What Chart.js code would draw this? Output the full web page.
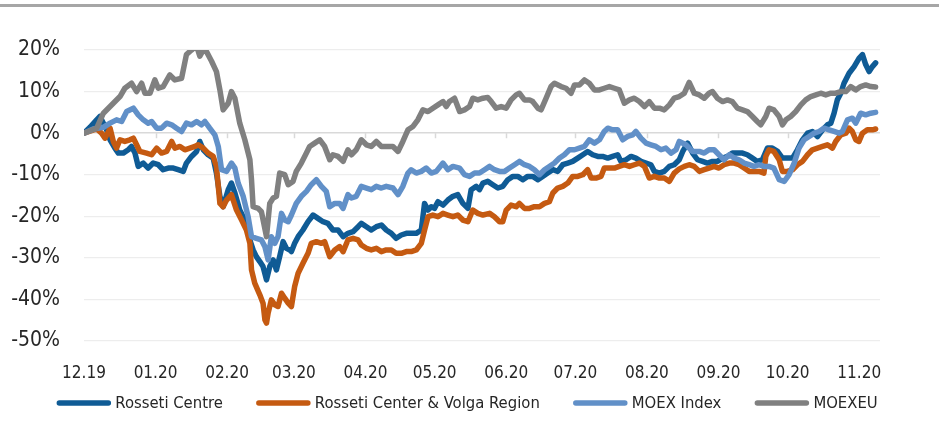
<!DOCTYPE html>
<html>
<head>
<meta charset="utf-8">
<script src="https://cdn.jsdelivr.net/npm/chart.js@4.4.0/dist/chart.umd.min.js"></script>
<style>
  html, body { margin: 0; padding: 0; background: #ffffff; }
  #wrap { position: relative; width: 939px; height: 425px; }
  #topline { position: absolute; left: 0; top: 4px; width: 939px; height: 3px; background: #a6a6a6; }
  canvas { position: absolute; left: 0; top: 0; }
</style>
</head>
<body>
<div id="wrap">
  <canvas id="c" width="939" height="425"></canvas>
  <div id="topline"></div>
</div>
<script>
// Day offsets from 1 Dec 2019 for month starts, and their labels
const monthTicks = [0, 31, 62, 91, 122, 152, 183, 213, 244, 275, 305, 336];
const monthLabels = ['12.19', '01.20', '02.20', '03.20', '04.20', '05.20', '06.20', '07.20', '08.20', '09.20', '10.20', '11.20'];
const seriesNames = ['Rosseti Centre', 'Rosseti Center & Volga Region', 'MOEX Index', 'MOEXEU'];

// Rosseti Centre (% change), days since 1 Dec 2019
const centreDays = [0,2.6,5.5,6.9,8.4,9.8,11.3,13.4,14.9,17.0,19.2,20.6,22.1,23.5,25.7,27.8,30.0,32.2,34.3,36.5,38.7,40.8,43.0,44.4,46.6,48.8,50.2,51.7,53.8,56.0,57.4,58.9,60.3,62.5,63.9,65.4,67.5,69.7,71.9,73.3,74.7,76.2,77.6,79.1,80.5,82.0,83.4,84.8,86.3,87.7,89.2,
  89.9,91.3,92.8,94.9,97.1,99.3,101.4,103.6,105.7,107.9,110.1,112.3,114.4,116.6,118.8,120.2,122.4,124.5,126.7,128.9,131.0,133.2,135.3,137.5,139.7,141.8,144.0,146.2,147.6,149.1,150.5,151.9,153.4,155.6,157.7,159.9,162.0,164.2,166.4,167.8,170.0,171.4,172.9,
  175.0,177.2,179.4,181.5,183.7,185.9,188.0,190.2,192.3,194.5,196.7,198.8,201.0,203.2,205.3,207.5,209.7,211.8,214.0,216.2,218.3,220.5,222.7,224.8,227.0,229.1,231.3,232.7,234.9,237.1,239.2,241.4,243.6,245.7,247.2,249.4,251.5,253.7,255.8,258.0,
  259.5,261.6,263.8,265.9,268.1,270.2,272.4,274.5,276.8,278.9,281.0,283.2,285.4,287.5,289.7,291.8,294.0,296.2,298.3,300.6,302.7,304.9,307.1,309.2,311.4,313.6,315.7,317.9,320.1,322.2,323.7,325.1,326.5,328.0,329.4,331.6,333.8,335.9,337.4,338.8,340.3,341.7,343.1];
const centreVals = [0,1.4,3.2,4,2.4,0.8,-1.6,-3.6,-4.8,-4.8,-4,-3.2,-4.8,-8,-7.2,-8.4,-7.2,-7.6,-8.8,-8.4,-8.4,-8.8,-9.2,-7.2,-5.6,-4.4,-2,-4,-5.2,-6,-9.6,-15.2,-17.7,-13.6,-12,-14.4,-18.5,-20.9,-25.7,-28.1,-29.7,-30.9,-32.1,-35.3,-32.1,-30.5,-32.9,-29.7,-26.1,-27.7,-28.1,
  -28.5,-26.5,-24.9,-23.3,-21.3,-19.7,-20.5,-21.3,-21.7,-23.3,-23.3,-24.9,-24.1,-23.7,-22.5,-21.7,-22.5,-23.3,-22.5,-22.1,-23.3,-24.1,-25.3,-24.5,-24.1,-24.1,-24.1,-23.3,-16.9,-18.5,-17.7,-18.1,-16.5,-17.3,-16.1,-15.2,-14.8,-16.9,-18.1,-13.6,-12.8,-13.6,-12,
  -11.6,-12.4,-13.2,-12.8,-11.2,-10.4,-10.4,-11.2,-10.4,-10.4,-11.2,-10.4,-9.6,-8.8,-9.2,-7.6,-7.2,-6.8,-6,-5.2,-4.4,-5.2,-5.6,-5.6,-6,-5.6,-5.2,-6.8,-6.4,-5.6,-6,-6.8,-7.2,-7.6,-9.2,-9.6,-9.2,-8,-7.6,-6.4,
  -4.4,-2.4,-4.8,-6.4,-6.8,-7.2,-6.8,-6.8,-6,-5.6,-4.8,-4.8,-4.8,-5.2,-6,-6.8,-6.4,-3.6,-3.6,-4.4,-6,-6,-6,-4,-1.6,0,0.4,-0.8,0.8,2,2.4,4.8,8,9.6,12,14.4,16,18,18.9,16.5,14.8,16,16.9];

// Rosseti Center & Volga Region
const volgaDays = [0,5.5,7.6,9.1,11.3,12.7,14.1,15.6,17.7,19.9,21.4,22.8,24.2,27.1,29.3,31.5,33.6,35.8,38.0,39.4,41.6,43.7,45.9,48.1,49.5,51.7,53.8,56.0,57.4,58.2,58.9,60.3,61.8,63.9,66.1,68.3,70.4,71.9,72.6,74.0,76.2,77.6,78.4,79.1,79.8,81.2,82.7,84.1,85.6,87.0,88.5,
  89.9,91.3,92.8,94.9,97.1,98.5,100.7,102.9,104.3,106.5,108.7,110.8,112.3,114.4,116.6,118.8,120.2,122.4,124.5,126.7,128.9,131.0,133.2,135.3,137.5,139.7,141.8,144.0,146.2,147.6,149.1,151.2,153.4,155.6,157.7,159.9,162.0,164.2,166.4,168.5,170.7,172.9,
  175.8,177.9,180.1,181.5,183.0,185.1,187.3,188.7,190.9,193.1,195.2,197.4,199.6,201.7,203.2,205.3,207.5,209.7,211.8,214.0,216.2,218.3,219.8,221.9,224.1,225.5,227.7,229.9,232.0,234.2,236.4,238.5,240.7,242.9,245.0,247.2,249.4,251.5,253.7,255.8,258.0,260.2,
  262.3,264.5,266.7,268.8,270.9,273.1,275.2,277.4,279.7,281.8,283.9,286.1,288.3,290.4,292.6,294.7,295.5,296.9,299.0,301.3,302.7,304.9,307.1,309.2,311.4,313.6,315.7,317.9,320.1,322.2,324.4,325.8,328.0,330.2,331.6,333.0,334.5,335.9,337.4,339.5,341.7,343.1];
const volgaVals = [0,1,0,-1.2,1.2,-2,-3.6,-1.6,-2,-1.6,-1.2,-2.8,-4.4,-4.8,-5.2,-3.6,-4.8,-4.4,-2,-3.6,-3.2,-4,-3.6,-3.2,-2.8,-3.6,-4.8,-5.6,-8,-12.8,-16.9,-17.7,-16.1,-14.8,-18.5,-20.9,-23.3,-26.5,-32.9,-36.1,-38.9,-40.9,-44.9,-45.7,-43.3,-40.1,-41.3,-41.7,-38.5,-39.7,-40.9,
  -41.7,-36.9,-33.7,-31.3,-28.9,-26.5,-26.1,-26.5,-26.1,-29.7,-28.1,-27.3,-28.5,-25.7,-25.3,-25.7,-26.9,-27.7,-28.1,-27.7,-28.5,-28.1,-28.1,-28.9,-28.9,-28.5,-28.5,-28.1,-26.5,-23.3,-20.1,-19.7,-20.1,-19.3,-19.7,-20.1,-19.7,-20.9,-21.3,-18.5,-19.3,-19.7,
  -19.3,-20.1,-21.3,-21.3,-18.5,-17.3,-17.7,-16.9,-18.1,-18.1,-17.7,-17.7,-16.9,-16.5,-14.4,-13.2,-12.8,-12,-10.4,-10.4,-10,-8.8,-10.8,-10.8,-10.4,-8.4,-8.4,-8.4,-8,-7.6,-8,-7.6,-7.2,-8,-10.8,-10.4,-10.8,-10.8,-11.6,-9.6,-8.6,-8,
  -7.6,-8,-9.2,-8.8,-8.4,-8,-8.4,-7.6,-7.2,-7.2,-7.6,-8.4,-9.2,-9.2,-9.2,-9.6,-5.6,-4,-4.4,-6.4,-9.2,-9.2,-8.8,-7.6,-6.8,-5.2,-4,-3.6,-3.2,-2.8,-3.6,-2,-0.4,0,1.2,0.4,-1.6,-2,0,0.8,0.8,1];

// MOEX Index
const moexDays = [0,4.0,8.4,11.3,14.1,16.3,18.5,21.4,23.5,25.7,27.8,29.3,31.5,33.6,35.8,38.0,40.1,42.3,44.4,46.6,48.8,50.9,52.4,54.5,56.7,58.2,59.6,61.8,63.9,65.4,66.8,69.0,71.1,72.6,74.7,76.9,78.4,79.8,81.2,82.7,84.1,85.6,87.0,88.5,
  89.9,92.0,94.2,96.4,98.5,100.7,102.9,105.0,106.5,108.7,110.8,112.3,114.4,115.9,118.0,120.2,122.4,124.5,126.7,128.9,131.0,133.9,136.1,138.2,140.4,141.8,144.0,146.2,148.3,150.5,152.7,155.6,157.7,159.9,162.8,164.9,167.1,169.3,171.4,173.6,175.8,
  177.9,180.1,182.3,184.4,186.6,188.7,190.9,193.1,195.2,197.4,199.6,201.7,203.9,206.1,208.2,210.4,212.6,214.7,216.9,219.0,221.2,223.4,225.5,227.0,229.1,231.3,233.5,235.6,237.8,239.2,241.4,243.6,245.7,247.9,250.1,252.2,254.4,256.6,258.0,
  260.9,263.8,266.7,268.8,270.9,273.1,275.2,277.4,279.7,281.8,283.9,286.1,288.3,290.4,292.6,294.7,296.9,299.0,301.3,303.5,305.6,307.8,309.9,312.1,314.3,316.5,318.6,320.8,322.9,325.1,327.3,328.7,330.9,333.0,334.5,336.6,338.8,341.0,343.1];
const moexVals = [0,1,1.4,2.4,3.2,2.8,5.2,6,4.4,3.2,2.4,2.8,1.2,1.2,2.4,2,1.2,0.4,2.4,2,2.8,2,2.8,1.2,-0.4,-3.2,-8.8,-9.2,-7.2,-8.4,-12,-15.2,-20,-24.9,-25.3,-25.7,-27.3,-30.5,-24.9,-26.5,-24.9,-19.3,-20.9,-21.3,
  -19.7,-16.9,-15.2,-14,-12.4,-11.2,-12.8,-14,-17.7,-16.9,-16.9,-18.1,-14.8,-15.6,-15.2,-12.8,-13.2,-13.6,-12.8,-13.2,-12.8,-13.2,-14.8,-12.8,-9.6,-8.8,-9.6,-9.2,-8.4,-9.6,-9.2,-7.2,-8.8,-8,-8.4,-10,-10.4,-9.6,-9.6,-8.8,-8,
  -8.8,-9.2,-9.2,-8.4,-7.6,-6.8,-7.6,-8,-8.8,-10,-8.8,-8,-7.2,-6,-5.2,-4,-4,-3.6,-3.2,-1.6,-2.4,-1.6,0.4,1.2,0.8,0.8,-1.6,-0.8,-0.4,0.4,-1.2,-2.4,-2.8,-3.2,-4,-3.6,-4.8,-4,-2,
  -2.8,-4.4,-4.4,-4.8,-4,-4,-5.2,-6.4,-5.2,-6,-6.4,-7.2,-7.6,-8,-7.6,-8,-8,-8.4,-11.2,-11.6,-10,-7.2,-3.6,-1.6,-0.8,0,0.4,1.2,0.8,0.4,0,0.4,3.2,3.6,2.4,4.8,4.4,4.8,5];

// MOEXEU
const moexeuDays = [0,5.5,8.4,12.7,15.6,17.7,20.6,22.8,25.0,26.4,28.6,30.7,32.2,34.3,37.2,39.4,42.3,44.4,46.6,48.8,50.2,51.7,53.1,55.3,57.4,58.9,60.3,62.5,63.9,65.4,67.5,69.7,71.9,72.6,73.3,75.5,76.9,79.1,80.5,82.0,83.4,84.8,87.0,
  88.5,90.6,92.0,94.2,96.4,97.8,100.0,102.2,104.3,106.5,107.9,110.1,112.3,114.4,115.9,118.0,120.2,122.4,124.5,126.7,128.9,131.0,133.9,136.1,138.2,140.4,142.6,144.7,146.9,149.1,151.2,153.4,155.6,157.0,158.4,160.6,162.8,164.9,167.1,168.5,170.7,172.9,
  175.0,176.5,178.6,180.8,183.0,185.1,187.3,188.7,190.9,193.1,194.5,196.7,198.1,200.3,202.4,203.9,206.8,208.9,211.1,212.6,214.7,216.9,219.0,221.2,223.4,225.5,227.7,229.9,232.0,234.2,236.4,238.5,240.7,242.9,245.0,247.2,249.4,251.5,253.7,255.8,258.0,
  260.2,262.3,264.5,266.7,268.8,270.9,272.4,274.5,276.8,278.9,281.0,283.2,285.4,287.5,289.7,291.8,293.3,295.5,296.9,299.0,301.3,302.7,304.2,306.3,308.5,310.7,312.8,315.0,317.2,319.3,321.5,323.7,325.8,328.0,330.2,332.3,334.5,336.6,338.8,341.0,343.1];
const moexeuVals = [0,1.2,4.8,7.2,8.8,10.8,12,10,12,9.6,9.6,12.8,10.8,11.2,14,12.8,13.2,18.9,20,21,18.5,20,19.6,17.3,14.8,10.4,5.6,7.2,10,8.4,2.4,-1.6,-6.4,-11.2,-17.7,-18.1,-18.9,-24.9,-16.9,-15.6,-15.2,-9.6,-10,
  -12.4,-11.6,-9.2,-7.2,-4.8,-3.2,-2.4,-1.6,-3.2,-6.4,-5.2,-5.6,-6.8,-4,-5.2,-4,-1.6,-2.8,-3.2,-2,-3.2,-3.2,-3.2,-4.4,-2,0.8,1.6,3.2,5.6,5.2,6,6.8,7.6,6.4,7.6,8.4,5.2,5.6,6.4,8.4,8,8.4,
  8.6,7.6,6,6.4,6,8,9.2,9.6,8,8,7.6,6,5.6,8.4,11.2,12,11.2,10.8,9.6,11.6,11.6,12.8,12,10.4,10.4,10.8,11.2,10.8,10.4,7.2,8,8.4,7.6,6.4,7.6,6,6,5.6,6.8,8.4,8.8,
  9.6,12.2,9.6,9.2,8.4,9.6,10,8.4,7.6,8,7.6,6,5.6,5.2,4,2.8,2,4,6,5.6,4,2,3.2,4,5.2,6.8,8,8.8,9.2,9.6,9.2,9.6,9.6,10,10,11.2,10.4,11.2,11.6,11.2,11.1];

const FONT = "'Liberation Sans Narrow', 'DejaVu Sans Condensed', 'Roboto Condensed', 'Liberation Sans', sans-serif";
const TEXT = '#262626';
const colors = ['#0f5b95', '#c55a11', '#6190c8', '#808080'];

function pts(days, vals) { return days.map((d, i) => ({ x: d, y: vals[i] })); }

const zeroTicks = {
  id: 'zeroTicks',
  beforeDatasetsDraw(chart) {
    const xs = chart.scales.x, ys = chart.scales.y, ctx = chart.ctx;
    const y0 = ys.getPixelForValue(0);
    ctx.save();
    ctx.strokeStyle = '#d9d9d9';
    ctx.lineWidth = 1.5;
    ctx.beginPath();
    monthTicks.forEach(v => {
      if (v === 0) return;
      const x = Math.round(xs.getPixelForValue(v)) + 0.5;
      ctx.moveTo(x, y0);
      ctx.lineTo(x, y0 + 5);
    });
    ctx.stroke();
    ctx.restore();
  }
};

const customLegend = {
  id: 'customLegend',
  afterDraw(chart) {
    const ctx = chart.ctx;
    const sample = 55, gapText = 4, gapItem = 33;
    ctx.save();
    ctx.font = "16.5px " + FONT;
    const items = chart.data.datasets.map(ds => ({ label: ds.label, color: ds.borderColor, w: ctx.measureText(ds.label).width }));
    let total = 0;
    items.forEach((it, i) => { total += sample + gapText + it.w + (i < items.length - 1 ? gapItem : 0); });
    let x = 467 - total / 2;
    const y = chart.height - 22;
    items.forEach(it => {
      ctx.strokeStyle = it.color;
      ctx.lineWidth = 5.5;
      ctx.lineCap = 'round';
      ctx.beginPath();
      ctx.moveTo(x + 3, y);
      ctx.lineTo(x + sample - 3, y);
      ctx.stroke();
      ctx.fillStyle = TEXT;
      ctx.textBaseline = 'middle';
      ctx.textAlign = 'left';
      ctx.fillText(it.label, x + sample + gapText, y + 1);
      x += sample + gapText + it.w + gapItem;
    });
    ctx.restore();
  }
};

const mk = (i, days, vals, order) => ({
  label: seriesNames[i],
  data: pts(days, vals),
  borderColor: colors[i],
  backgroundColor: colors[i],
  borderWidth: 5.5,
  pointRadius: 0,
  tension: 0,
  borderJoinStyle: 'round',
  borderCapStyle: 'round',
  order: order
});

new Chart(document.getElementById('c'), {
  type: 'line',
  data: {
    datasets: [
      mk(0, centreDays, centreVals, 4),
      mk(1, volgaDays, volgaVals, 3),
      mk(2, moexDays, moexVals, 2),
      mk(3, moexeuDays, moexeuVals, 1)
    ]
  },
  options: {
    responsive: false,
    animation: false,
    layout: { padding: { top: 50, right: 59, left: 0, bottom: 0 } },
    plugins: { legend: { display: false }, tooltip: { enabled: false } },
    scales: {
      x: {
        type: 'linear',
        min: 0,
        max: 345,
        grid: { display: false },
        border: { display: false },
        afterBuildTicks(scale) { scale.ticks = monthTicks.map(v => ({ value: v })); },
        afterFit(scale) { scale.height = 84; },
        ticks: {
          autoSkip: false,
          maxRotation: 0,
          minRotation: 0,
          padding: 14,
          color: TEXT,
          font: { family: FONT, size: 17 },
          callback: (v) => monthLabels[monthTicks.indexOf(v)]
        }
      },
      y: {
        min: -50,
        max: 20,
        afterFit(scale) { scale.width = 84; },
        grid: {
          drawTicks: false,
          color: (c) => (c.tick && c.tick.value === 0 ? '#d9d9d9' : '#ededed'),
          lineWidth: (c) => (c.tick && c.tick.value === 0 ? 1.5 : 1.2)
        },
        border: { display: false },
        ticks: {
          stepSize: 10,
          padding: 24,
          color: TEXT,
          font: { family: FONT, size: 21 },
          callback: (v) => v + '%'
        }
      }
    }
  },
  plugins: [zeroTicks, customLegend]
});
</script>
</body>
</html>
